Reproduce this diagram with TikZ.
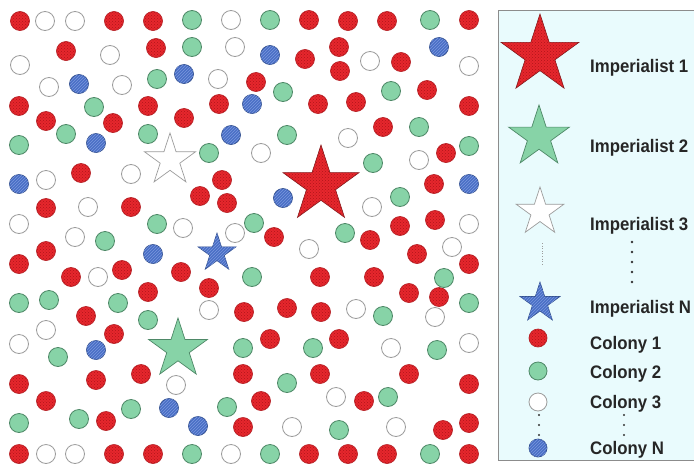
\documentclass[tikz,border=0pt]{standalone}
\usepackage{fontspec}
\setmainfont{Liberation Sans}
\usetikzlibrary{patterns}
\definecolor{redfill}{HTML}{E6272D}
\definecolor{reddot}{HTML}{B01419}
\definecolor{redline}{HTML}{B8262B}
\definecolor{greenfill}{HTML}{87D3A7}
\definecolor{greenline}{HTML}{4E8867}
\definecolor{grayline}{HTML}{9C9C9C}
\definecolor{bluefill}{HTML}{4A6FC6}
\definecolor{bluestripe}{HTML}{7A98DE}
\definecolor{blueline}{HTML}{33508E}
\definecolor{legendfill}{HTML}{E9FBFD}
\definecolor{legendline}{HTML}{8C8C8C}
\newcommand\starat[4]{%
  \path[#1] (#2,#3) +(-90:#4) -- +(-54:{0.382*#4}) -- +(-18:#4) -- +(18:{0.382*#4})
    -- +(54:#4) -- +(90:{0.382*#4}) -- +(126:#4) -- +(162:{0.382*#4})
    -- +(198:#4) -- +(234:{0.382*#4}) -- cycle;}
\newcommand\tallbox[1]{\scalebox{1}[1.08]{#1}}
\tikzset{
  rc/.style={draw=redline, line width=0.7pt, fill=redfill, postaction={pattern=crosshatch dots, pattern color=reddot}},
  gc/.style={draw=greenline, line width=0.8pt, fill=greenfill},
  wc/.style={draw=grayline, line width=0.8pt, fill=white},
  bc/.style={draw=blueline, line width=0.7pt, fill=bluefill, postaction={pattern=north east lines, pattern color=bluestripe}},
  rstar/.style={draw=redline!70!black, line width=0.6pt, fill=redfill, postaction={pattern=crosshatch dots, pattern color=reddot}},
  gstar/.style={draw=greenline, line width=0.7pt, fill=greenfill},
  wstar/.style={draw=grayline, line width=0.7pt, fill=white},
  bstar/.style={draw=blueline, line width=0.6pt, fill=bluefill, postaction={pattern=north east lines, pattern color=bluestripe}},
  lbl/.style={anchor=base west, inner sep=0pt, font=\fontsize{16.8}{20}\selectfont\bfseries, text=black!85},
  ldot/.style={fill=black!80},
}
\begin{document}
\begin{tikzpicture}[x=1pt,y=-1pt]
\useasboundingbox (0,0) rectangle (694,464);
\clip (0,0) rectangle (694,464);
\fill[white] (0,0) rectangle (694,464);
% red colonies
\foreach \x/\y in {20/21,114/21,153/21,309/20,348/21,387/21,469/20,
 66/51,156/48,305/59,339/47,401/62,340/71,
 19/106,148/106,46/121,113/123,256/82,219/104,318/104,184/118,356/102,469/106,427/90,383/127,446/153,
 81/173,46/208,131/207,46/251,19/264,71/277,122/270,148/292,86/316,
 222/180,200/196,227/203,274/237,181/272,209/288,244/312,287/308,320/277,
 434/184,435/220,400/226,370/240,417/254,469/264,374/277,409/293,439/297,321/312,
 114/334,19/384,96/380,141/374,46/401,106/421,19/454,114/454,153/454,
 270/339,243/374,320/374,261/401,243/427,309/454,
 339/339,409/374,469/384,364/401,443/430,469/423,348/454,387/454,469/454}
 \path[rc] (\x,\y) circle (9.5pt);
% green colonies
\foreach \x/\y in {192/20,270/20,430/20,192/47,157/79,94/107,66/134,148/134,19/145,283/92,287/135,391/91,419/127,469/146,209/153,373/163,
 157/224,105/241,19/303,49/300,118/303,148/320,254/223,252/277,400/197,345/233,444/278,469/303,383/316,
 58/357,19/423,79/419,131/409,243/348,313/348,287/383,227/407,192/454,270/454,437/350,388/397,339/430,430/454}
 \path[gc] (\x,\y) circle (9.5pt);
% white colonies
\foreach \x/\y in {45/21,75/21,231/20,110/55,235/47,20/65,49/87,122/85,218/79,370/61,469/66,261/153,348/138,419/160,
 46/180,131/174,88/207,19/224,75/237,98/277,183/228,235/233,309/249,209/310,372/207,469/224,452/247,356/309,435/317,
 46/330,19/344,176/385,292/427,46/454,75/454,231/454,391/348,469/343,336/397,396/427}
 \path[wc] (\x,\y) circle (9.5pt);
% blue colonies
\foreach \x/\y in {79/84,96/143,184/74,270/55,252/104,231/135,439/47,19/184,153/254,283/198,469/184,96/350,169/408,198/426}
 \path[bc] (\x,\y) circle (9.5pt);
% imperialists
\starat{wstar}{170}{160}{27}
\starat{rstar}{321}{185}{40}
\starat{bstar}{217}{253}{20}
\starat{gstar}{178}{349}{31}
% legend
\path[fill=legendfill, draw=legendline, line width=0.8pt] (498,10) rectangle (720,460);
\starat{rstar}{540}{55}{41}
\starat{gstar}{539}{137}{32}
\starat{wstar}{540}{212}{25}
\starat{bstar}{540}{303}{21}
\path[rc] (538,338) circle (9pt);
\path[gc] (538,371) circle (9pt);
\path[wc] (538,402) circle (9pt);
\path[bc] (538,448) circle (9pt);
\node[lbl] (t1) at (590,72) {\tallbox{Imperialist 1}};
\node[lbl] (t2) at (590,152) {\tallbox{Imperialist 2}};
\node[lbl] (t3) at (590,230) {\tallbox{Imperialist 3}};
\node[lbl] (tn) at (590,313) {\tallbox{Imperialist N}};
\node[lbl] (c1) at (590,349) {\tallbox{Colony 1}};
\node[lbl] (c2) at (590,378) {\tallbox{Colony 2}};
\node[lbl] (c3) at (590,408) {\tallbox{Colony 3}};
\node[lbl] (cn) at (590,454) {\tallbox{Colony N}};
\foreach \y in {242,252,262,272,282} \fill[ldot] (632,\y) circle (1.3pt);
\foreach \y in {415,425,435} {\fill[ldot] (624,\y) circle (1.2pt); \fill[ldot] (539,\y) circle (1.2pt);}
\draw[grayline, dotted, line width=0.6pt] (542,243) -- (542,266);
\end{tikzpicture}
\end{document}
